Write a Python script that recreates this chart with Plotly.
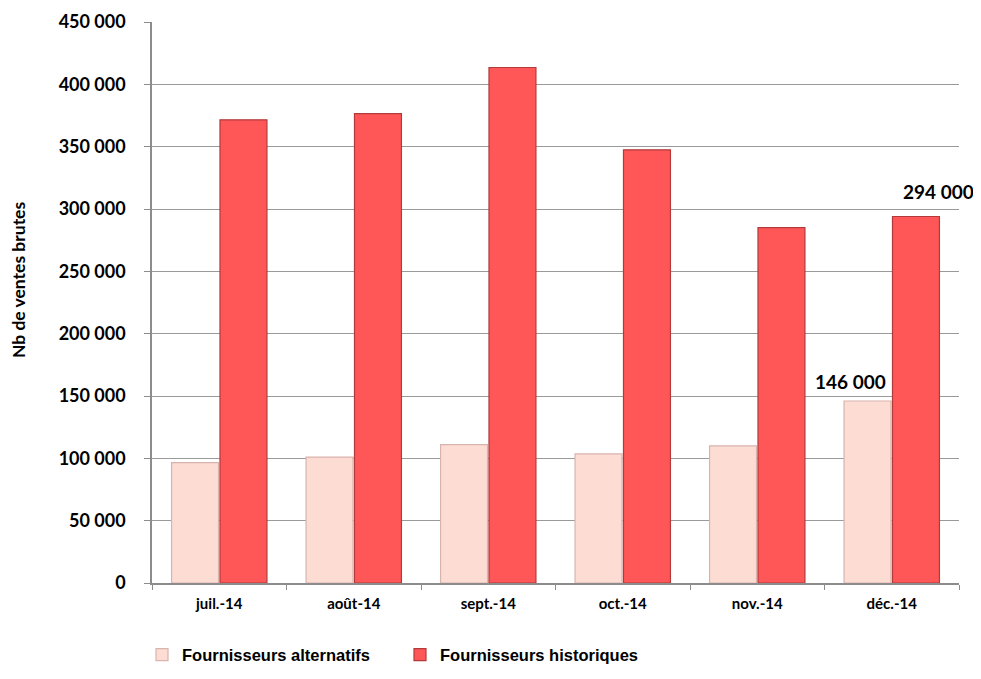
import plotly.graph_objects as go

months = ["juil.-14", "août-14", "sept.-14", "oct.-14", "nov.-14", "déc.-14"]
alternatifs = [96500, 101000, 111000, 103500, 110000, 146000]
historiques = [371500, 376500, 413500, 347500, 285000, 294000]
series_names = ["Fournisseurs alternatifs", "Fournisseurs historiques"]
y_ticks = [0, 50000, 100000, 150000, 200000, 250000, 300000, 350000, 400000, 450000]
y_title = "Nb de ventes brutes"

LIGHT = "#FDDCD4"
RED = "#FF5757"
TICKFONT = "Lato, Calibri, 'Open Sans', sans-serif"

fig = go.Figure()
fig.add_trace(go.Bar(
    x=months, y=alternatifs, name=series_names[0],
    marker=dict(color=LIGHT, line=dict(color="#D9B3AE", width=1.2)),
))
fig.add_trace(go.Bar(
    x=months, y=historiques, name=series_names[1],
    marker=dict(color=RED, line=dict(color="#B33A3A", width=1.2)),
))

# value labels on the last month
last = len(months) - 1
fig.add_annotation(x=months[last], y=alternatifs[last], text="146 000",
                   showarrow=False, yanchor="bottom", xshift=-41, yshift=6,
                   font=dict(family=TICKFONT, size=19, color="#000000", weight="bold"))
fig.add_annotation(x=months[last], y=historiques[last], text="294 000",
                   showarrow=False, yanchor="bottom", xshift=47, yshift=11,
                   font=dict(family=TICKFONT, size=19, color="#000000", weight="bold"))

# y axis title (placed as annotation to match its off-centre position)
fig.add_annotation(xref="paper", yref="paper", x=-0.166, y=0.54, text=y_title,
                   showarrow=False, textangle=-90, xanchor="center", yanchor="middle",
                   font=dict(family=TICKFONT, size=17.5, color="#000000", weight="bold"))

fig.update_layout(
    width=981, height=679,
    margin=dict(l=144, r=30, t=14, b=104),
    paper_bgcolor="white", plot_bgcolor="white",
    barmode="group", bargap=0.28, bargroupgap=0.03,
    separators=", ",
    showlegend=True,
    legend=dict(
        orientation="h", x=-0.0124, xanchor="left", y=-0.128, yanchor="middle",
        font=dict(family="'Liberation Sans', Arial, sans-serif",
                  size=16.5, color="#000000", weight="bold"),
        entrywidth=213, entrywidthmode="pixels",
        bgcolor="rgba(0,0,0,0)",
    ),
    xaxis=dict(
        type="category", range=[-0.5, len(months) - 0.5], automargin=False,
        showgrid=False, showline=True, linecolor="#8C8C8C", linewidth=1.5,
        ticks="outside", tickson="boundaries", ticklen=5, tickcolor="#8C8C8C",
        ticklabelstandoff=6,
        tickfont=dict(family=TICKFONT, size=15, color="#000000", weight="bold"),
    ),
    yaxis=dict(
        range=[0, 450000], tickvals=y_ticks, tickformat=",.0f", automargin=False,
        showgrid=True, gridcolor="#9A9A9A", gridwidth=1,
        showline=True, linecolor="#8C8C8C", linewidth=1.5,
        ticks="outside", ticklen=6, tickcolor="#8C8C8C",
        ticklabelstandoff=15,
        zeroline=False,
        tickfont=dict(family=TICKFONT, size=18, color="#000000", weight="bold"),
    ),
)

fig.write_html("out.html")
